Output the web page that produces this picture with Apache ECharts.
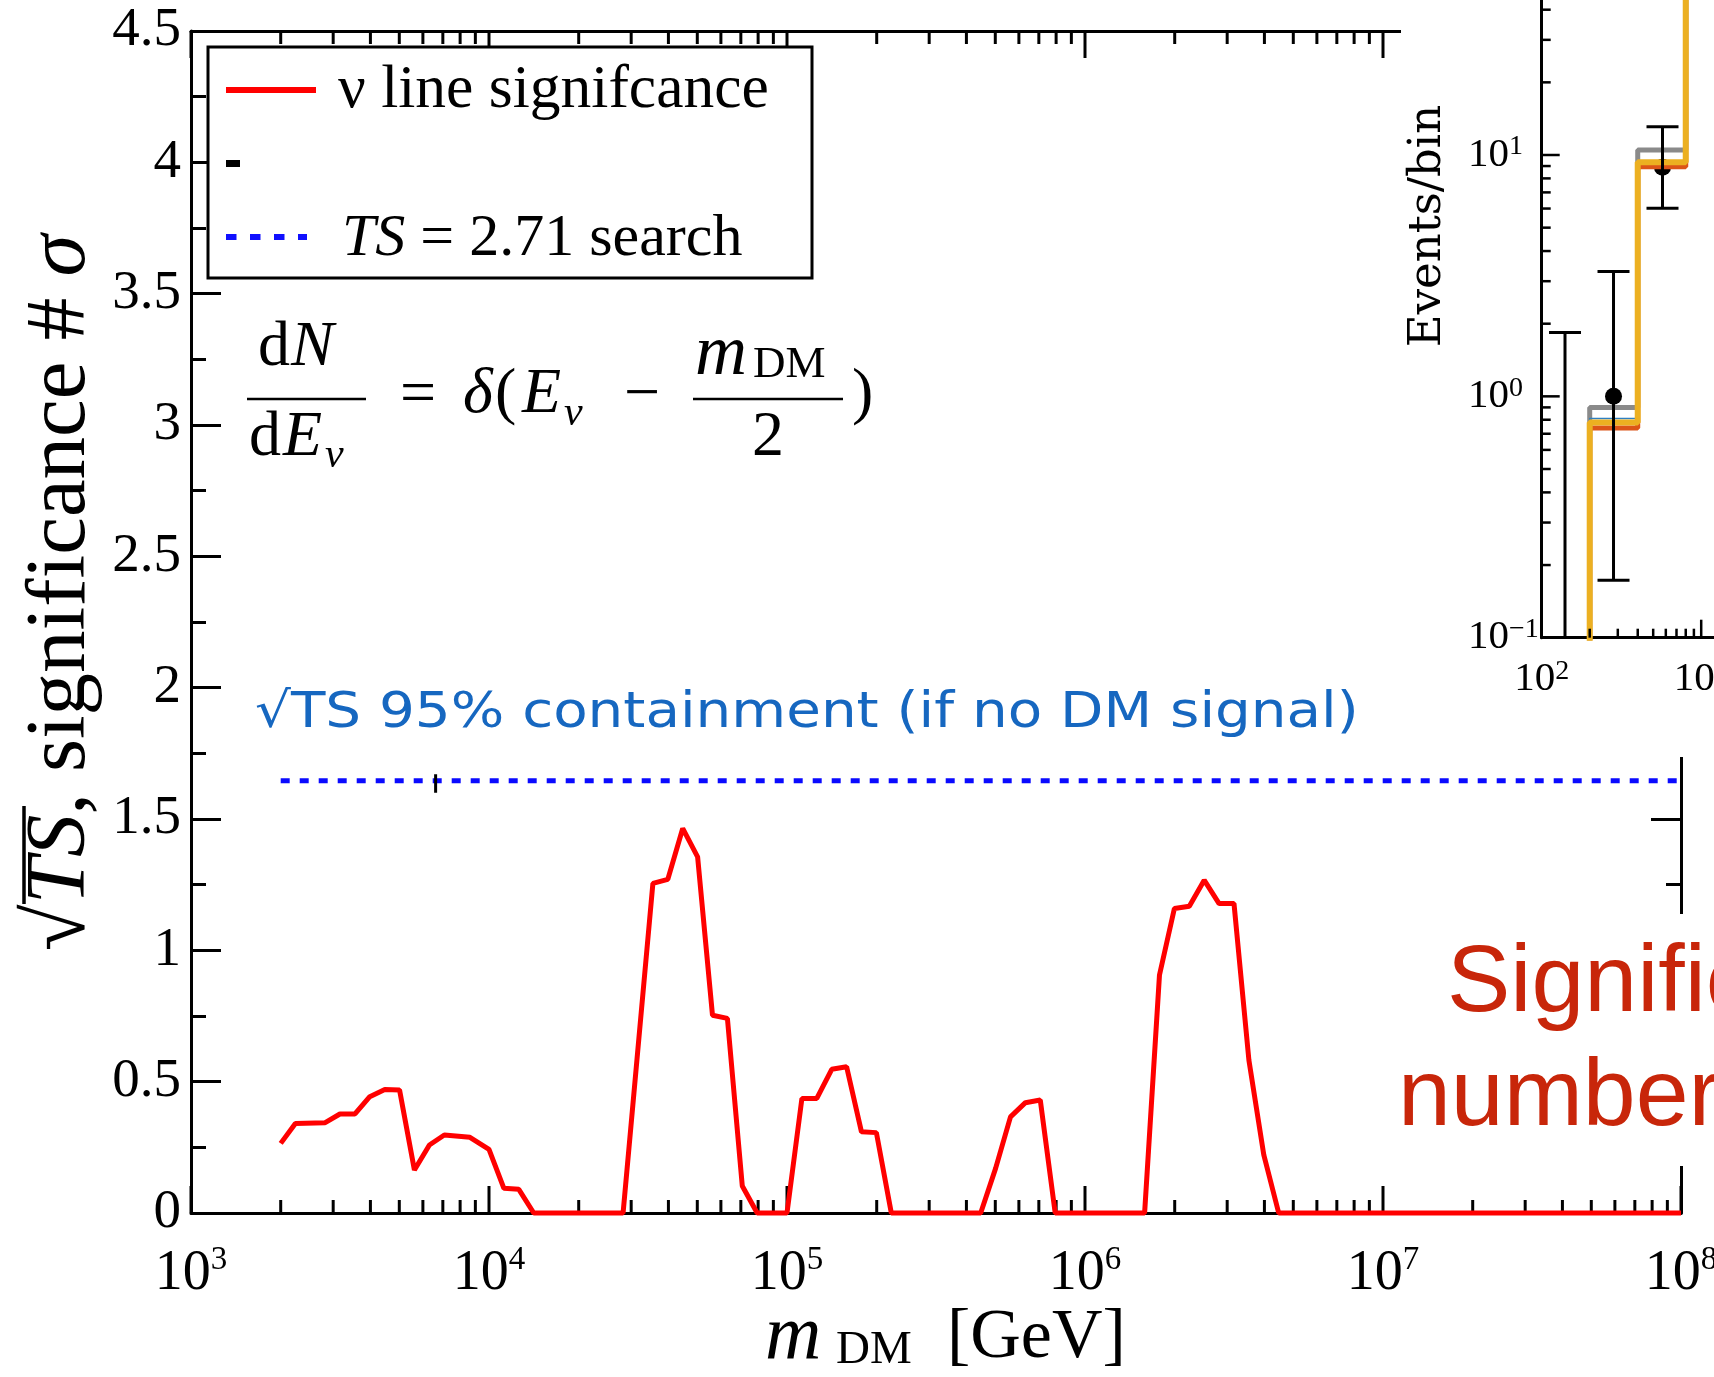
<!DOCTYPE html>
<html><head><meta charset="utf-8">
<script src="https://cdn.jsdelivr.net/npm/echarts@6/dist/echarts.min.js"></script>
<style>html,body{margin:0;padding:0;background:#fff}#c{width:1714px;height:1377px}</style>
</head><body><div id="c"></div>
<script>
// ---------------- main panel data ----------------
const massGeV = [2000, 2240, 2820, 3160, 3550, 3980, 4470, 5010, 5620, 6310, 7080, 8630, 10000, 11220, 12590, 14130,
  28180, 35480, 39810, 44670, 50120, 56230, 63100, 70790, 79430, 100000, 112200, 125900, 141300, 158500, 177800, 199500,
  223900, 446700, 501200, 562300, 631000, 707900, 794300, 1585000, 1778000, 1995000, 2239000, 2512000, 2818000,
  3162000, 3548000, 3981000, 4467000, 100000000];
const sqrtTS = [0.265, 0.341, 0.344, 0.377, 0.377, 0.443, 0.470, 0.468, 0.164, 0.259, 0.297, 0.288, 0.242, 0.094, 0.090, 0,
  0, 1.255, 1.270, 1.464, 1.356, 0.753, 0.741, 0.103, 0, 0, 0.436, 0.436, 0.547, 0.557, 0.309, 0.306,
  0, 0, 0.170, 0.366, 0.420, 0.430, 0, 0, 0.906, 1.159, 1.168, 1.267, 1.178, 1.178,
  0.582, 0.221, 0, 0];
const searchLevel = 1.646;            // sqrt(TS = 2.71)
const searchRangeGeV = [2000, 100000000];
const blackMarkGeV = 6620;
const blackMarkRange = [1.60, 1.67];
const mainXDecades = [3, 4, 5, 6, 7, 8];
const minorMultipliers = [2, 3, 4, 5, 6, 7, 8, 9];
const mainYTickLabels = ['0', '0.5', '1', '1.5', '2', '2.5', '3', '3.5', '4', '4.5'];

// ---------------- inset data ----------------
const binEdgesGeV = [100, 200, 400, 800, 1600];
const modelGray = [0.05, 0.90, 10.5, 70];
const modelBlue = [0.05, 0.81, 9.3, 70];
const modelOrange = [0.05, 0.74, 8.95, 70];
const modelYellow = [0.05, 0.78, 9.33, 70];
const obsEnergyGeV = [140, 282, 572];
const obsCounts = [0, 1, 8.9];
const obsUpper = [1.84, 3.29, 13.1];
const obsLower = [0, 0.173, 6.01];
const insetXDecades = [2, 3, 4];
const insetYDecades = [-1, 0, 1, 2, 3];

// ---------------- helpers ----------------
const SERIF = 'Liberation Serif';
function supLabel(v) {
  const e = Math.round(Math.log10(v));
  return '{b|10}{s|' + (e < 0 ? '\u2212' + (-e) : e) + '}';
}
function stepData(vals) {
  return binEdgesGeV.map((e, i) => [e, vals[Math.min(i, vals.length - 1)]]);
}
function txt(x, base, text, size, o) {
  o = o || {};
  const k = (o.k === undefined) ? 0.34 : o.k;
  return {
    type: 'text', x: x, y: base - k * size, z: o.z || 51, rotation: o.rot || 0,
    scaleX: o.sx || 1,
    style: {
      text: text, fill: o.color || '#000', fontFamily: o.family || SERIF, fontSize: size,
      fontStyle: o.italic ? 'italic' : 'normal', rich: o.rich,
      align: o.align || 'left', textAlign: o.align || 'left',
      verticalAlign: 'middle', textVerticalAlign: 'middle'
    }
  };
}
function hline(x1, x2, y, w, color, z, dash) {
  return { type: 'line', z: z || 51, shape: { x1: x1, y1: y, x2: x2, y2: y },
    style: { stroke: color || '#000', lineWidth: w, lineDash: dash || null } };
}

// main ticks (top and bottom, log x)
const mainTickData = [];
mainXDecades.forEach(d => {
  mainTickData.push([Math.pow(10, d), 0, 1]);
  if (d < 8) minorMultipliers.forEach(m => mainTickData.push([m * Math.pow(10, d), 0, 0]));
});
function mainTickRender(params, api) {
  const v = api.value(0), major = api.value(2);
  const b = api.coord([v, 0]), t = api.coord([v, 4.5]);
  const len = major ? 27 : 13;
  const st = { stroke: '#000', lineWidth: 3 };
  return { type: 'group', children: [
    { type: 'line', shape: { x1: b[0], y1: b[1], x2: b[0], y2: b[1] - len }, style: st },
    { type: 'line', shape: { x1: t[0], y1: t[1], x2: t[0], y2: t[1] + len }, style: st }
  ] };
}

// inset ticks
const insetTickData = [];
insetXDecades.forEach(d => {
  insetTickData.push([Math.pow(10, d), 0.1, 0]);
  if (d < 4) minorMultipliers.forEach(m => insetTickData.push([m * Math.pow(10, d), 0.1, 1]));
});
insetYDecades.forEach(d => {
  insetTickData.push([100, Math.pow(10, d), 2]);
  if (d < 3) minorMultipliers.forEach(m => insetTickData.push([100, m * Math.pow(10, d), 3]));
});
function insetTickRender(params, api) {
  const kind = api.value(2);
  const p = api.coord([api.value(0), api.value(1)]);
  const len = (kind === 0 || kind === 2) ? 18 : 9;
  const st = { stroke: '#000', lineWidth: 2.5 };
  if (kind < 2) return { type: 'line', shape: { x1: p[0], y1: p[1], x2: p[0], y2: p[1] - len }, style: st };
  return { type: 'line', shape: { x1: p[0], y1: p[1], x2: p[0] + len, y2: p[1] }, style: st };
}
function errRender(params, api) {
  const e = api.value(0), lo = api.value(1), hi = api.value(2);
  const top = api.coord([e, hi]);
  const cs = params.coordSys;
  const by = lo > 0 ? api.coord([e, lo])[1] : cs.y + cs.height;
  const h = 16, st = { stroke: '#000', lineWidth: 3 };
  const ch = [
    { type: 'line', shape: { x1: top[0], y1: top[1], x2: top[0], y2: by }, style: st },
    { type: 'line', shape: { x1: top[0] - h, y1: top[1], x2: top[0] + h, y2: top[1] }, style: st }
  ];
  if (lo > 0) ch.push({ type: 'line', shape: { x1: top[0] - h, y1: by, x2: top[0] + h, y2: by }, style: st });
  return { type: 'group', children: ch };
}

const axisLineStyle = { show: true, onZero: false, lineStyle: { color: '#000', width: 3 } };
const mainRich = { b: { fontFamily: SERIF, fontSize: 56, lineHeight: 60, color: '#000' },
  s: { fontFamily: SERIF, fontSize: 33, lineHeight: 20, verticalAlign: 'top', color: '#000' } };
const insetRichX = { b: { fontFamily: SERIF, fontSize: 41, lineHeight: 44, color: '#000' },
  s: { fontFamily: SERIF, fontSize: 28, lineHeight: 4, verticalAlign: 'top', color: '#000' } };
const insetRichY = { b: { fontFamily: SERIF, fontSize: 41, lineHeight: 44, color: '#000' },
  s: { fontFamily: SERIF, fontSize: 28, lineHeight: 2, verticalAlign: 'top', color: '#000' } };

const yRich = {
  n: { fontFamily: SERIF, fontSize: 85, color: '#000', lineHeight: 90 },
  i: { fontFamily: SERIF, fontSize: 85, fontStyle: 'italic', color: '#000', lineHeight: 90 }
};
const legRich = {
  n: { fontFamily: SERIF, fontSize: 60, color: '#000', lineHeight: 60 },
  i: { fontFamily: SERIF, fontSize: 60, fontStyle: 'italic', color: '#000', lineHeight: 60 }
};

const F = 64, FS = 42;
const graphics = [
  // cover for the overlaid inset picture and the red text box
  { type: 'rect', z: 50, shape: { x: 1401, y: 0, width: 313, height: 757 }, style: { fill: '#fff' } },
  { type: 'rect', z: 50, shape: { x: 1390, y: 914, width: 324, height: 252 }, style: { fill: '#fff' } },
  // legend box
  { type: 'rect', z: 50, shape: { x: 208, y: 47, width: 604, height: 231 }, style: { fill: '#fff', stroke: '#000', lineWidth: 3 } },
  hline(226, 316, 90, 6, '#ff0000'),
  txt(338, 112, '\u03bd line signifcance', 61.5),
  hline(226, 240, 163.5, 7, '#000'),
  hline(226, 307, 237, 6, '#1010ff', 51, [10.5, 13.5]),
  txt(342, 260, '{i|TS} {n|= 2.71 search}', 60, { rich: legRich }),
  // formula dN/dE = delta(E - m/2)
  txt(258, 370, 'd', F),
  txt(291, 370, 'N', F, { italic: true }),
  hline(247, 366, 399, 2.5, '#000'),
  txt(249, 460, 'd', F),
  txt(283, 460, 'E', F, { italic: true }),
  txt(325, 470, '\u03bd', FS, { italic: true }),
  txt(418, 418, '=', F, { align: 'center' }),
  txt(463, 417, '\u03b4', F, { italic: true }),
  txt(495, 417, '(', F),
  txt(522, 417, 'E', F, { italic: true }),
  txt(564, 428, '\u03bd', FS, { italic: true }),
  txt(642, 418, '\u2212', F, { align: 'center' }),
  txt(695, 380, 'm', 72, { italic: true }),
  txt(753, 380, 'DM', 45),
  hline(693, 843, 399, 2.5, '#000'),
  txt(768, 460, '2', F, { align: 'center' }),
  txt(852, 417, ')', F),
  // blue annotation
  txt(255, 731, '\u221aTS 95% containment (if no DM signal)', 49, { family: 'DejaVu Sans', color: '#1667c0', sx: 1.15, k: 0.346 }),
  // y axis title (rotated, starts at the bottom)
  txt(62, 951, '{n|\u221a}{i|TS}{n|, significance # }{i|\u03c3}', 85, { rich: yRich, rot: Math.PI / 2, k: 0 }),
  { type: 'line', z: 51, shape: { x1: 24, y1: 806, x2: 24, y2: 904 }, style: { stroke: '#000', lineWidth: 3.5 } },
  // x axis title
  txt(765, 1365, 'm', 78, { italic: true }),
  txt(836, 1367, 'DM', 47),
  txt(947, 1362, '[GeV]', 70),
  // inset y title
  { type: 'text', z: 70, x: 1428, y: 226, rotation: Math.PI / 2,
    style: { text: 'Events/bin', fill: '#000', fontFamily: 'DejaVu Serif', fontSize: 45, align: 'center', textAlign: 'center', verticalAlign: 'middle', textVerticalAlign: 'middle' } },
  // red text
  txt(1447, 1018, 'Significance', 95, { family: 'Liberation Sans', color: '#c8260a', z: 70, k: 0.347 }),
  txt(1398, 1132, 'number', 95, { family: 'Liberation Sans', color: '#c8260a', z: 70, k: 0.347 })
];

const option = {
  animation: false,
  backgroundColor: '#fff',
  grid: [
    { left: 191, top: 31, width: 1490, height: 1182, containLabel: false, outerBoundsMode: 'none' },
    { left: 1541.7, top: -327.7, width: 319, height: 965.4, containLabel: false, outerBoundsMode: 'none' }
  ],
  xAxis: [
    { gridIndex: 0, type: 'log', logBase: 10, min: 1e3, max: 1e8, position: 'bottom',
      axisLine: axisLineStyle, axisTick: { show: false }, splitLine: { show: false }, minorTick: { show: false },
      axisLabel: { margin: 31, formatter: supLabel, rich: mainRich } },
    { gridIndex: 0, type: 'log', logBase: 10, min: 1e3, max: 1e8, position: 'top',
      axisLine: axisLineStyle, axisTick: { show: false }, splitLine: { show: false }, axisLabel: { show: false } },
    { gridIndex: 1, type: 'log', logBase: 10, min: 100, max: 1e4, position: 'bottom', z: 60,
      axisLine: axisLineStyle, axisTick: { show: false }, splitLine: { show: false },
      axisLabel: { margin: 20, formatter: supLabel, rich: insetRichX } }
  ],
  yAxis: [
    { gridIndex: 0, type: 'value', min: 0, max: 4.5, interval: 0.5, position: 'left',
      axisLine: axisLineStyle, splitLine: { show: false },
      axisTick: { show: true, inside: true, length: 30, lineStyle: { color: '#000', width: 3 } },
      minorTick: { show: true, splitNumber: 2, length: 15, lineStyle: { color: '#000', width: 3 } },
      axisLabel: { margin: 10, fontFamily: SERIF, fontSize: 55, color: '#000',
        formatter: v => mainYTickLabels[Math.round(v * 2)] } },
    { gridIndex: 0, type: 'value', min: 0, max: 4.5, interval: 0.5, position: 'right',
      axisLine: axisLineStyle, splitLine: { show: false },
      axisTick: { show: true, inside: true, length: 30, lineStyle: { color: '#000', width: 3 } },
      minorTick: { show: true, splitNumber: 2, length: 15, lineStyle: { color: '#000', width: 3 } },
      axisLabel: { show: false } },
    { gridIndex: 1, type: 'log', logBase: 10, min: 0.1, max: 1000, position: 'left', z: 60,
      axisLine: axisLineStyle, axisTick: { show: false }, splitLine: { show: false },
      axisLabel: { margin: 73.7, align: 'left', formatter: supLabel, rich: insetRichY } }
  ],
  series: [
    { type: 'custom', xAxisIndex: 0, yAxisIndex: 0, z: 3, clip: false, silent: true,
      renderItem: mainTickRender, data: mainTickData, encode: { x: 0, y: 1 } },
    { name: 'search', type: 'line', xAxisIndex: 0, yAxisIndex: 0, z: 4, showSymbol: false, symbol: 'none',
      data: searchRangeGeV.map(m => [m, searchLevel]),
      lineStyle: { color: '#0a0aff', width: 5, type: [9, 10], cap: 'butt' } },
    { name: 'nu line significance', type: 'line', xAxisIndex: 0, yAxisIndex: 0, z: 5, showSymbol: false, symbol: 'none',
      data: massGeV.map((m, i) => [m, sqrtTS[i]]), clip: false,
      lineStyle: { color: '#ff0000', width: 5 } },
    { name: 'mark', type: 'line', xAxisIndex: 0, yAxisIndex: 0, z: 6, showSymbol: false, symbol: 'none',
      data: blackMarkRange.map(v => [blackMarkGeV, v]),
      lineStyle: { color: '#000', width: 3 } },
    // inset
    { type: 'scatter', xAxisIndex: 2, yAxisIndex: 2, z: 61, symbolSize: 17,
      itemStyle: { color: '#000', opacity: 1 },
      data: obsEnergyGeV.map((e, i) => [e, obsCounts[i]]).filter(d => d[1] > 0) },
    { type: 'line', xAxisIndex: 2, yAxisIndex: 2, z: 62, step: 'end', showSymbol: false, symbol: 'none',
      data: stepData(modelGray), lineStyle: { color: '#8a8a8a', width: 5 } },
    { type: 'line', xAxisIndex: 2, yAxisIndex: 2, z: 63, step: 'end', showSymbol: false, symbol: 'none',
      data: stepData(modelBlue), lineStyle: { color: '#2f7fc0', width: 1.5 } },
    { type: 'line', xAxisIndex: 2, yAxisIndex: 2, z: 64, step: 'end', showSymbol: false, symbol: 'none',
      data: stepData(modelOrange), lineStyle: { color: '#dc5518', width: 5 } },
    { type: 'line', xAxisIndex: 2, yAxisIndex: 2, z: 65, step: 'end', showSymbol: false, symbol: 'none',
      data: stepData(modelYellow), lineStyle: { color: '#ecb021', width: 6 } },
    { type: 'custom', xAxisIndex: 2, yAxisIndex: 2, z: 66, clip: false, silent: true,
      renderItem: errRender, data: obsEnergyGeV.map((e, i) => [e, obsLower[i], obsUpper[i]]), encode: { x: 0, y: 2 } },
    { type: 'custom', xAxisIndex: 2, yAxisIndex: 2, z: 67, clip: false, silent: true,
      renderItem: insetTickRender, data: insetTickData, encode: { x: 0, y: 1 } }
  ],
  graphic: { elements: graphics }
};
const chart = echarts.init(document.getElementById('c'), null, { renderer: 'canvas', width: 1714, height: 1377 });
chart.setOption(option);
</script>
</body></html>
